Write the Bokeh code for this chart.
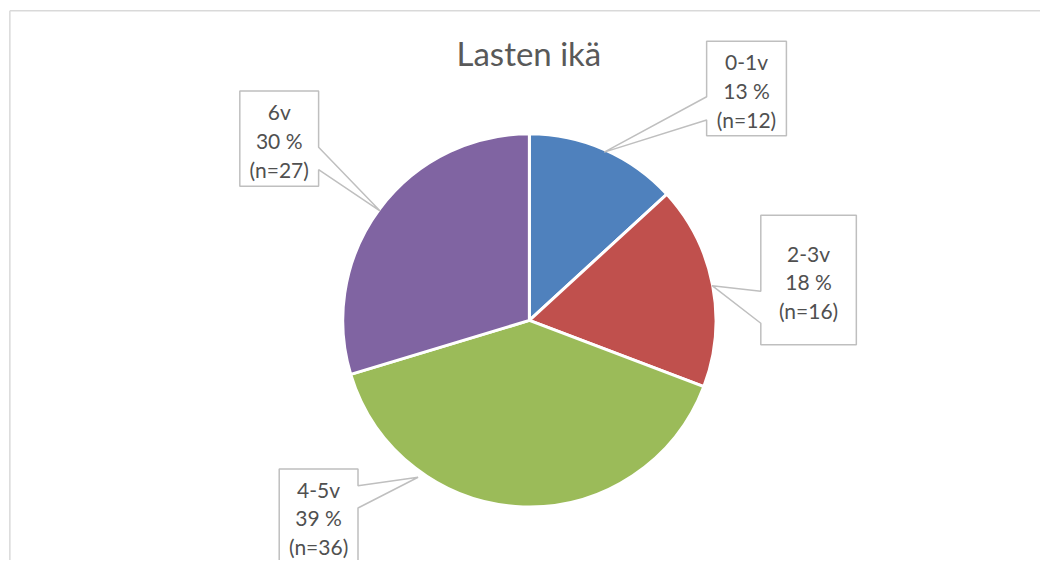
import math
from bokeh.plotting import figure
from bokeh.models import Range1d
from bokeh.core.properties import value
from bokeh.embed import file_html
from bokeh.resources import INLINE

# ---- data ----
title_text = "Lasten ikä"
categories = ["0-1v", "2-3v", "4-5v", "6v"]
counts = [12, 16, 36, 27]
pct_labels = ["13 %", "18 %", "39 %", "30 %"]
colors = ["#4F81BD", "#C0504D", "#9BBB59", "#8064A2"]

# ---- layout (reference pixel space 1056 x 576) ----
W, H = 1040, 560
REF_W, REF_H = 1056, 576
cx0, cy0, R = 537, 329, 189.5
# label boxes: left, top, width, height, pointer base y1, y2, tip angle override (deg clockwise from top), tip radius
label_layout = [
    (717, 42, 81, 97, 99, 123, None, 189),
    (772, 221, 97, 133, 299, 332, None, 189),
    (283, 482, 80, 96, 499, 522, 215, 197),
    (243, 93, 80, 98, 151, 174, None, 189),
]
FONT = "Lato"

def Y(sy):
    return REF_H - sy

p = figure(width=W, height=H, x_range=Range1d(0, REF_W), y_range=Range1d(0, REF_H),
           output_backend="svg", toolbar_location=None, min_border=0)
p.axis.visible = False
p.grid.visible = False
p.outline_line_color = None
p.background_fill_color = "white"
p.border_fill_color = "white"

# chart area border (only left and top visible in the view)
p.line([9.5, 9.5], [Y(600), Y(10.5)], line_color="#d9d9d9", line_width=1.5)
p.line([9.5, 1100], [Y(10.5), Y(10.5)], line_color="#d9d9d9", line_width=1.5)

# pie
total = sum(counts)
cum = 0.0
starts, ends, mids = [], [], []
for c in counts:
    a = cum / total
    b = (cum + c) / total
    starts.append(math.pi / 2 - 2 * math.pi * b)
    ends.append(math.pi / 2 - 2 * math.pi * a)
    mids.append((a + b) / 2 * 360.0)
    cum += c

p.wedge(x=[cx0] * len(counts), y=[Y(cy0)] * len(counts), radius=R,
        start_angle=starts, end_angle=ends, fill_color=colors,
        line_color="white", line_width=3)

# title
p.text(x=[536.5], y=[Y(54.5)], text=[title_text], text_font=value(FONT),
       text_font_size="33px", text_color="#595959", text_align="center",
       text_baseline="middle")

# callouts
for i, (L, T, w, h, y1, y2, ang, rt) in enumerate(label_layout):
    theta = math.radians(mids[i] if ang is None else ang)
    tx = cx0 + rt * math.sin(theta)
    ty = cy0 - rt * math.cos(theta)
    Rt, B = L + w, T + h
    if tx < L:
        pts = [(L, T), (Rt, T), (Rt, B), (L, B), (L, y2), (tx, ty), (L, y1)]
    else:
        pts = [(L, T), (Rt, T), (Rt, y1), (tx, ty), (Rt, y2), (Rt, B), (L, B)]
    p.patch([q[0] for q in pts], [Y(q[1]) for q in pts], fill_color="white",
            line_color="#bfbfbf", line_width=1.5)
    bx = L + w / 2
    mid_c = T + h / 2 + 2
    lines = [categories[i], pct_labels[i], "(n=%d)" % counts[i]]
    ys = [Y(mid_c - 29.5), Y(mid_c), Y(mid_c + 29.5)]
    p.text(x=[bx] * 3, y=ys, text=lines, text_font=value(FONT),
           text_font_size="21px", text_color="#505050", text_align="center",
           text_baseline="middle")

open("out.html", "w").write(file_html(p, INLINE))
